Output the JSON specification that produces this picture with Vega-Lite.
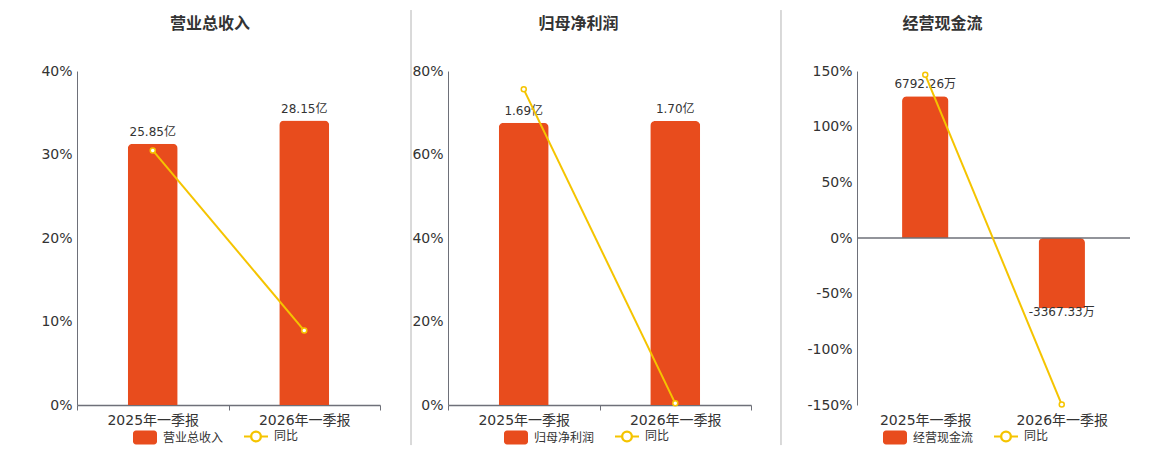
{
  "$schema": "https://vega.github.io/schema/vega-lite/v6.json",
  "padding": {"left": 40, "top": 9, "right": 5, "bottom": 0},
  "background": "white",
  "config": {
    "font": "DejaVu Sans, Noto Sans CJK SC",
    "view": {"stroke": null},
    "axis": {
      "labelFont": "DejaVu Sans, Noto Sans CJK SC",
      "labelFontSize": 14,
      "labelColor": "#333333",
      "domainColor": "#6e7079",
      "tickColor": "#6e7079",
      "title": null
    },
    "axisX": {"domainWidth": 1.5, "tickSize": 5, "tickBand": "extent", "labelPadding": 3, "grid": false, "labelAngle": 0},
    "axisY": {"ticks": false, "labelPadding": 5, "gridColor": "#e0e6f1", "domainWidth": 1},
    "title": {"font": "Noto Sans CJK SC", "fontSize": 16, "fontWeight": "bold", "color": "#333333", "anchor": "middle", "frame": "group", "offset": -22},
    "legend": {
      "orient": "none",
      "direction": "horizontal",
      "title": null,
      "labelFont": "Noto Sans CJK SC",
      "labelFontSize": 12,
      "labelColor": "#333333",
      "labelOffset": 12,
      "columnPadding": 16,
      "legendY": 359
    }
  },
  "spacing": 24,
  "resolve": {"scale": {"color": "independent"}},
  "hconcat": [
    {
      "spacing": 29,
      "resolve": {"scale": {"color": "independent"}},
      "hconcat": [
        {
          "width": 303,
          "height": 334,
          "title": {"text": "营业总收入", "dx": -18.5},
          "data": {"values": [
            {"period": "2025年一季报", "value": 25.85, "label": "25.85亿", "yoy": 30.49},
            {"period": "2026年一季报", "value": 28.15, "label": "28.15亿", "yoy": 8.91}
          ]},
          "resolve": {"scale": {"y": "independent"}},
          "layer": [
            {
              "encoding": {
                "x": {"field": "period", "type": "nominal", "sort": null, "scale": {"paddingInner": 0, "paddingOuter": 0}},
                "y": {"field": "value", "type": "quantitative", "scale": {"domain": [0, 33.05], "nice": false}, "axis": null}
              },
              "layer": [
                {
                  "mark": {"type": "bar", "width": {"band": 0.33}, "cornerRadiusEnd": 5},
                  "encoding": {
                    "color": {
                      "datum": "营业总收入",
                      "type": "nominal",
                      "scale": {"domain": ["营业总收入", "同比"], "range": ["#e84c1d", "#f5c400"]},
                      "legend": {
                        "legendX": 62,
                        "encode": {"symbols": {"update": {
                          "shape": {"signal": "datum.value === '同比' ? 'M-1,0H-0.42M0.42,0H1M-0.42,0A0.42,0.42 0 1 1 0.42,0A0.42,0.42 0 1 1 -0.42,0ZM-0.39,0A0.39,0.39 0 1 0 0.39,0A0.39,0.39 0 1 0 -0.39,0Z' : 'M-0.75,-0.58H0.75A0.25,0.25 0 0 1 1,-0.33V0.33A0.25,0.25 0 0 1 0.75,0.58H-0.75A0.25,0.25 0 0 1 -1,0.33V-0.33A0.25,0.25 0 0 1 -0.75,-0.58Z'"},
                          "strokeWidth": {"signal": "datum.value === '同比' ? 2 : 0"},
                          "opacity": {"value": 1},
                          "size": {"value": 576}
                        }}}
                      }
                    }
                  }
                },
                {
                  "mark": {"type": "text", "fontSize": 12, "color": "#333333", "baseline": "bottom", "dy": -5},
                  "encoding": {"text": {"field": "label"}}
                }
              ]
            },
            {
              "mark": {"type": "line", "strokeWidth": 2, "point": {"filled": false, "fill": "white", "size": 25, "strokeWidth": 1.5}},
              "encoding": {
                "x": {"field": "period", "type": "nominal", "sort": null, "scale": {"paddingInner": 0, "paddingOuter": 0}},
                "y": {"field": "yoy", "type": "quantitative", "scale": {"domain": [0, 40], "nice": false},
                      "axis": {"orient": "left", "values": [0, 10, 20, 30, 40], "labelExpr": "datum.value + '%'"}},
                "color": {"datum": "同比", "type": "nominal"}
              }
            },
            {
              "data": {"values": [{}]},
              "mark": {"type": "rule", "strokeOpacity": 0},
              "encoding": {
                "y": {"datum": 47.3, "type": "quantitative", "scale": {"domain": [0, 40], "nice": false}, "axis": null}
              }
            }
          ]
        },
        {
          "width": 303,
          "height": 334,
          "title": {"text": "归母净利润", "dx": -21},
          "data": {"values": [
            {"period": "2025年一季报", "value": 1.69, "label": "1.69亿", "yoy": 75.6},
            {"period": "2026年一季报", "value": 1.70, "label": "1.70亿", "yoy": 0.4}
          ]},
          "resolve": {"scale": {"y": "independent", "x": "independent"}},
          "layer": [
            {
              "encoding": {
                "x": {"field": "period", "type": "nominal", "sort": null, "scale": {"paddingInner": 0, "paddingOuter": 0}},
                "y": {"field": "value", "type": "quantitative", "scale": {"domain": [0, 2], "nice": false}, "axis": null}
              },
              "layer": [
                {
                  "mark": {"type": "bar", "width": {"band": 0.33}, "cornerRadiusEnd": 5},
                  "encoding": {
                    "color": {
                      "datum": "归母净利润",
                      "type": "nominal",
                      "scale": {"domain": ["归母净利润", "同比"], "range": ["#e84c1d", "#f5c400"]},
                      "legend": {
                        "legendX": 62,
                        "encode": {"symbols": {"update": {
                          "shape": {"signal": "datum.value === '同比' ? 'M-1,0H-0.42M0.42,0H1M-0.42,0A0.42,0.42 0 1 1 0.42,0A0.42,0.42 0 1 1 -0.42,0ZM-0.39,0A0.39,0.39 0 1 0 0.39,0A0.39,0.39 0 1 0 -0.39,0Z' : 'M-0.75,-0.58H0.75A0.25,0.25 0 0 1 1,-0.33V0.33A0.25,0.25 0 0 1 0.75,0.58H-0.75A0.25,0.25 0 0 1 -1,0.33V-0.33A0.25,0.25 0 0 1 -0.75,-0.58Z'"},
                          "strokeWidth": {"signal": "datum.value === '同比' ? 2 : 0"},
                          "opacity": {"value": 1},
                          "size": {"value": 576}
                        }}}
                      }
                    }
                  }
                },
                {
                  "mark": {"type": "text", "fontSize": 12, "color": "#333333", "baseline": "bottom", "dy": -5},
                  "encoding": {"text": {"field": "label"}}
                }
              ]
            },
            {
              "mark": {"type": "line", "strokeWidth": 2, "point": {"filled": false, "fill": "white", "size": 25, "strokeWidth": 1.5}},
              "encoding": {
                "x": {"field": "period", "type": "nominal", "sort": null, "scale": {"paddingInner": 0, "paddingOuter": 0}, "axis": null},
                "y": {"field": "yoy", "type": "quantitative", "scale": {"domain": [0, 80], "nice": false},
                      "axis": {"orient": "left", "values": [0, 20, 40, 60, 80], "labelExpr": "datum.value + '%'"}},
                "color": {"datum": "同比", "type": "nominal"}
              }
            },
            {
              "data": {"values": [{}]},
              "mark": {"type": "rule", "color": "#b4b4b4", "strokeWidth": 1},
              "encoding": {
                "x": {"datum": -0.1221, "type": "quantitative", "scale": {"domain": [0, 1], "nice": false, "zero": false}, "axis": null},
                "y": {"datum": 94.6, "type": "quantitative", "scale": {"domain": [0, 80], "nice": false}, "axis": null},
                "y2": {"datum": -9.6}
              }
            },
            {
              "data": {"values": [{}]},
              "mark": {"type": "rule", "color": "#b4b4b4", "strokeWidth": 1},
              "encoding": {
                "x": {"datum": 1.099, "type": "quantitative", "scale": {"domain": [0, 1], "nice": false, "zero": false}, "axis": null},
                "y": {"datum": 94.6, "type": "quantitative", "scale": {"domain": [0, 80], "nice": false}, "axis": null},
                "y2": {"datum": -9.6}
              }
            }
          ]
        }
      ]
    },
    {
      "width": 273,
      "height": 334,
      "title": {"text": "经营现金流", "dx": -51},
      "data": {"values": [
        {"period": "2025年一季报", "value": 6792.26, "label": "6792.26万", "yoy": 146.6},
        {"period": "2026年一季报", "value": -3367.33, "label": "-3367.33万", "yoy": -149.6}
      ]},
      "resolve": {"scale": {"y": "independent"}},
      "layer": [
        {
          "encoding": {
            "x": {"field": "period", "type": "nominal", "sort": null, "scale": {"paddingInner": 0, "paddingOuter": 0},
                  "axis": {"domain": false, "ticks": false, "labelPadding": 8}},
            "y": {"field": "value", "type": "quantitative", "scale": {"domain": [-8000, 8000], "nice": false, "zero": false}, "axis": null}
          },
          "layer": [
            {
              "mark": {"type": "bar", "width": {"band": 0.34}, "cornerRadiusEnd": 5},
              "encoding": {
                "color": {
                  "datum": "经营现金流",
                  "type": "nominal",
                  "scale": {"domain": ["经营现金流", "同比"], "range": ["#e84c1d", "#f5c400"]},
                  "legend": {
                    "legendX": 32,
                    "encode": {"symbols": {"update": {
                      "shape": {"signal": "datum.value === '同比' ? 'M-1,0H-0.42M0.42,0H1M-0.42,0A0.42,0.42 0 1 1 0.42,0A0.42,0.42 0 1 1 -0.42,0ZM-0.39,0A0.39,0.39 0 1 0 0.39,0A0.39,0.39 0 1 0 -0.39,0Z' : 'M-0.75,-0.58H0.75A0.25,0.25 0 0 1 1,-0.33V0.33A0.25,0.25 0 0 1 0.75,0.58H-0.75A0.25,0.25 0 0 1 -1,0.33V-0.33A0.25,0.25 0 0 1 -0.75,-0.58Z'"},
                      "strokeWidth": {"signal": "datum.value === '同比' ? 2 : 0"},
                      "opacity": {"value": 1},
                      "size": {"value": 576}
                    }}}
                  }
                }
              }
            },
            {
              "mark": {"type": "text", "fontSize": 12, "color": "#333333",
                       "baseline": {"expr": "datum.value < 0 ? 'top' : 'bottom'"},
                       "dy": {"expr": "datum.value < 0 ? -1 : -5"}},
              "encoding": {"text": {"field": "label"}}
            }
          ]
        },
        {
          "data": {"values": [{}]},
          "mark": {"type": "rule", "color": "#6e7079", "strokeWidth": 1.5},
          "encoding": {
            "y": {"datum": 0, "type": "quantitative", "scale": {"domain": [-150, 150], "nice": false}, "axis": null}
          }
        },
        {
          "data": {"values": [{}]},
          "mark": {"type": "rule", "strokeOpacity": 0},
          "encoding": {
            "y": {"datum": 204.8, "type": "quantitative", "scale": {"domain": [-150, 150], "nice": false}, "axis": null}
          }
        },
        {
          "mark": {"type": "line", "strokeWidth": 2, "point": {"filled": false, "fill": "white", "size": 25, "strokeWidth": 1.5}},
          "encoding": {
            "x": {"field": "period", "type": "nominal", "sort": null, "scale": {"paddingInner": 0, "paddingOuter": 0}},
            "y": {"field": "yoy", "type": "quantitative", "scale": {"domain": [-150, 150], "nice": false},
                  "axis": {"orient": "left", "values": [-150, -100, -50, 0, 50, 100, 150], "labelExpr": "datum.value + '%'"}},
            "color": {"datum": "同比", "type": "nominal"}
          }
        }
      ]
    }
  ]
}
